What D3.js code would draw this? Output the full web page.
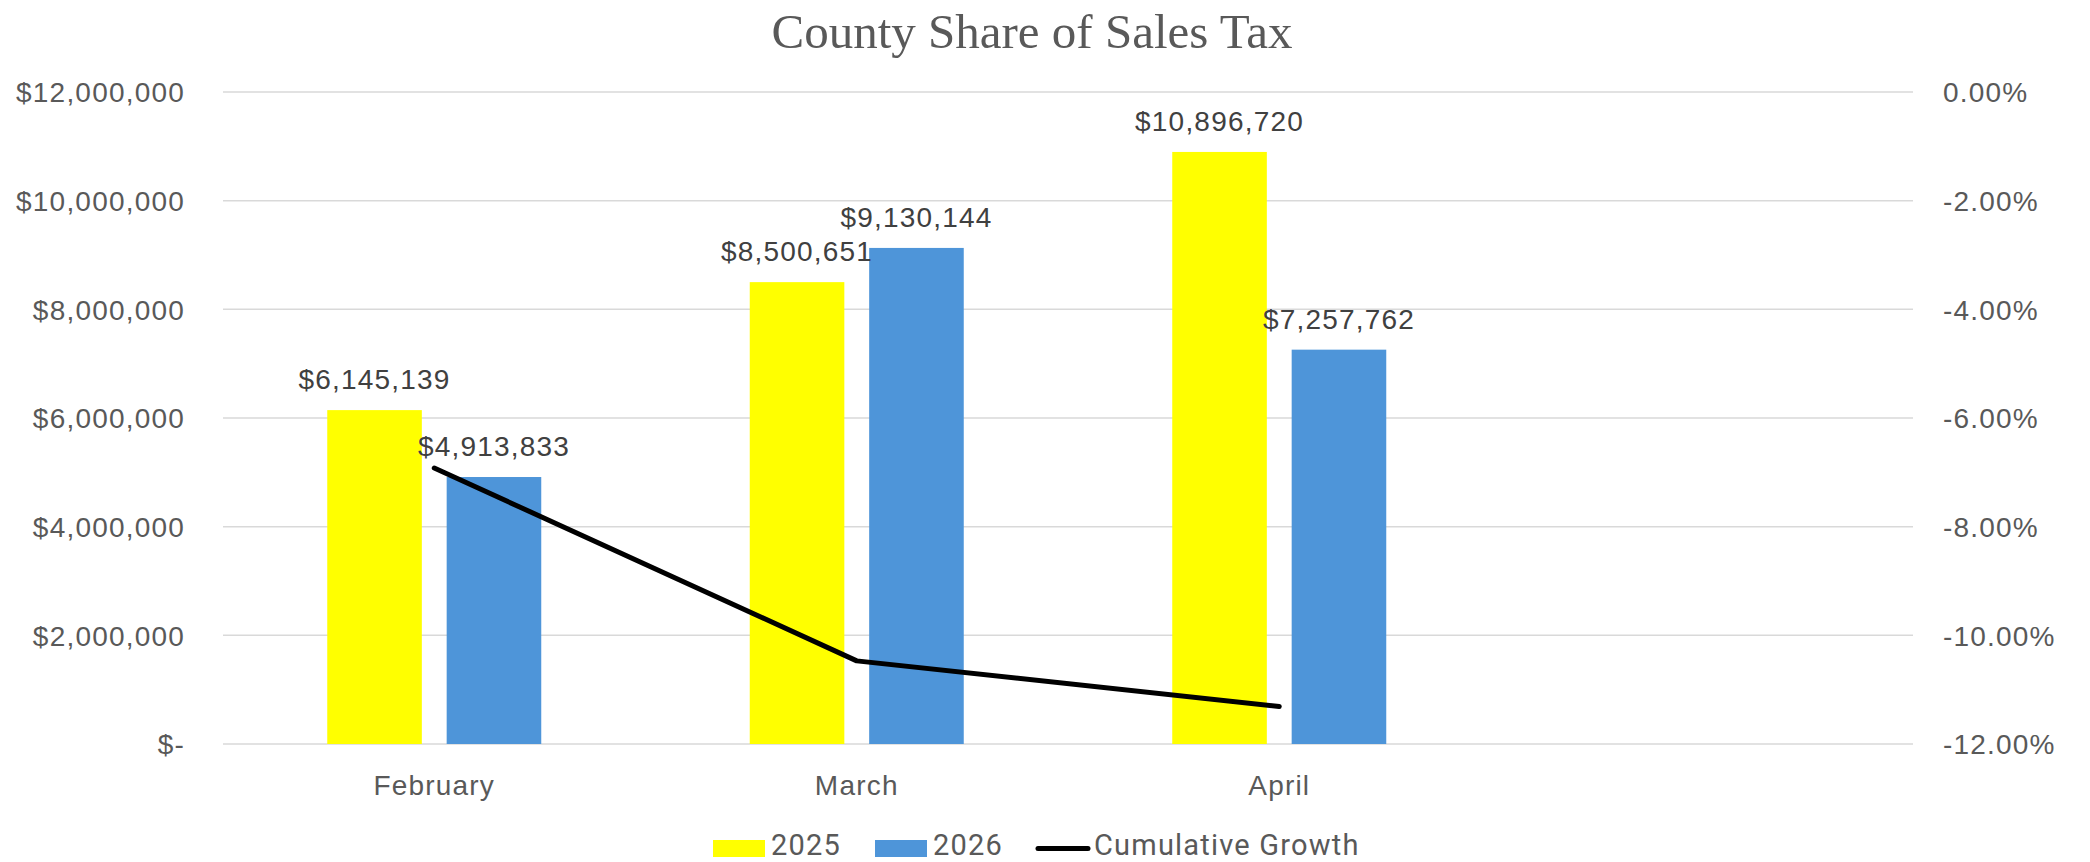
<!DOCTYPE html>
<html>
<head>
<meta charset="utf-8">
<script src="https://cdn.jsdelivr.net/npm/d3@7.9.0/dist/d3.min.js"></script>
<style>
  html, body { margin: 0; padding: 0; background: #fff; }
  svg { display: block; }
</style>
</head>
<body>
<div id="chart"></div>
<script>
// chart data
const months = ["February", "March", "April", ""];
const years = ["2025", "2026"];
const sales2025 = [6145139, 8500651, 10896720];
const sales2026 = [4913833, 9130144, 7257762];
const cumulativeGrowth = [-6.92, -10.47, -11.31];
const leftTicks = [0, 2000000, 4000000, 6000000, 8000000, 10000000, 12000000];
const rightTicks = [0, -2, -4, -6, -8, -10, -12];

const width = 2090;
const height = 862;
const margin = { top: 92, right: 177, bottom: 118, left: 223 };

const colors = { "2025": "#FFFF00", "2026": "#4E95D9" };
const sansFont = "'Liberation Sans', Arial, sans-serif";

const svg = d3.select("#chart")
  .append("svg")
  .attr("width", width)
  .attr("height", height)
  .attr("viewBox", `0 0 ${width} ${height}`);

const usableArea = {
  top: margin.top,
  right: width - margin.right,
  bottom: height - margin.bottom,
  left: margin.left
};

const xScale = d3.scaleBand()
  .domain(months)
  .range([usableArea.left, usableArea.right]);

const groupWidth = 214;
const xInner = d3.scaleBand()
  .domain(years)
  .range([0, groupWidth])
  .paddingInner(0.208);

const yScale = d3.scaleLinear()
  .domain([0, 12000000])
  .range([usableArea.bottom, usableArea.top]);

const yRight = d3.scaleLinear()
  .domain([-12, 0])
  .range([usableArea.bottom, usableArea.top]);

// title
svg.append("text")
  .attr("x", 1032)
  .attr("y", 48)
  .attr("text-anchor", "middle")
  .style("font-family", "'Liberation Serif', 'Times New Roman', serif")
  .style("font-size", "49px")
  .attr("fill", "#595959")
  .text("County Share of Sales Tax");

// gridlines
svg.append("g")
  .attr("class", "gridlines")
  .selectAll("line")
  .data(leftTicks)
  .join("line")
  .attr("x1", usableArea.left)
  .attr("x2", usableArea.right)
  .attr("y1", d => yScale(d))
  .attr("y2", d => yScale(d))
  .attr("stroke", "#D9D9D9")
  .attr("stroke-width", 1.5);

// left axis
const fmtMoney = d => d === 0 ? "$-" : "$" + d3.format(",")(d);
const leftAxis = svg.append("g")
  .attr("transform", `translate(${usableArea.left - 38}, 0)`)
  .call(d3.axisLeft(yScale).tickValues(leftTicks).tickFormat(fmtMoney).tickSize(0).tickPadding(0));
leftAxis.select(".domain").remove();
leftAxis.selectAll("text")
  .attr("dy", "0.35em")
  .style("font-family", sansFont)
  .style("font-size", "28px")
  .style("letter-spacing", "1.2px")
  .attr("fill", "#595959");

// right axis
const rightAxis = svg.append("g")
  .attr("transform", `translate(${usableArea.right + 30}, 0)`)
  .call(d3.axisRight(yRight).tickValues(rightTicks).tickFormat(d => d.toFixed(2) + "%").tickSize(0).tickPadding(0));
rightAxis.select(".domain").remove();
rightAxis.selectAll("text")
  .attr("dy", "0.35em")
  .style("font-family", sansFont)
  .style("font-size", "28px")
  .style("letter-spacing", "1.2px")
  .attr("fill", "#595959");

// category axis
const bottomAxis = svg.append("g")
  .attr("transform", `translate(0, ${usableArea.bottom})`)
  .call(d3.axisBottom(xScale).tickSize(0).tickPadding(0));
bottomAxis.select(".domain").remove();
bottomAxis.selectAll("text")
  .attr("y", 51)
  .attr("dy", 0)
  .style("font-family", sansFont)
  .style("font-size", "28px")
  .style("letter-spacing", "1.2px")
  .attr("fill", "#595959");

// bars
const barData = [];
months.slice(0, 3).forEach((m, i) => {
  barData.push({ month: m, year: "2025", value: sales2025[i] });
  barData.push({ month: m, year: "2026", value: sales2026[i] });
});

const barX = d => xScale(d.month) + (xScale.bandwidth() - groupWidth) / 2 + xInner(d.year);

svg.append("g")
  .attr("class", "bars")
  .selectAll("rect")
  .data(barData)
  .join("rect")
  .attr("x", barX)
  .attr("y", d => yScale(d.value))
  .attr("width", xInner.bandwidth())
  .attr("height", d => yScale(0) - yScale(d.value))
  .attr("fill", d => colors[d.year]);

// line
const lineData = cumulativeGrowth.map((v, i) => ({ month: months[i], value: v }));
const line = d3.line()
  .x(d => xScale(d.month) + xScale.bandwidth() / 2)
  .y(d => yRight(d.value));

svg.append("path")
  .datum(lineData)
  .attr("d", line)
  .attr("fill", "none")
  .attr("stroke", "#000")
  .attr("stroke-width", 5)
  .attr("stroke-linecap", "round")
  .attr("stroke-linejoin", "round");

// data labels
svg.append("g")
  .attr("class", "labels")
  .selectAll("text")
  .data(barData)
  .join("text")
  .attr("x", d => barX(d) + xInner.bandwidth() / 2)
  .attr("y", d => yScale(d.value) - 21)
  .attr("text-anchor", "middle")
  .style("font-family", sansFont)
  .style("font-size", "28px")
  .style("letter-spacing", "1.2px")
  .attr("fill", "#404040")
  .text(d => "$" + d3.format(",")(d.value));

// legend
const legendFont = "Roboto, 'Liberation Sans', sans-serif";
const legend = svg.append("g").attr("class", "legend");
const legendItems = [
  { key: "2025", x: 713, type: "rect" },
  { key: "2026", x: 875, type: "rect" },
  { key: "Cumulative Growth", x: 1036, type: "line" }
];
legendItems.forEach(item => {
  if (item.type === "rect") {
    legend.append("rect")
      .attr("x", item.x).attr("y", 840)
      .attr("width", 52).attr("height", 17)
      .attr("fill", colors[item.key]);
  } else {
    legend.append("line")
      .attr("x1", item.x + 2).attr("x2", item.x + 52)
      .attr("y1", 848.5).attr("y2", 848.5)
      .attr("stroke", "#000")
      .attr("stroke-width", 5)
      .attr("stroke-linecap", "round");
  }
  legend.append("text")
    .attr("x", item.x + 58)
    .attr("y", 855)
    .style("font-family", legendFont)
    .style("font-size", "29px")
    .style("letter-spacing", "1.2px")
    .attr("fill", "#595959")
    .text(item.key);
});
</script>
</body>
</html>
